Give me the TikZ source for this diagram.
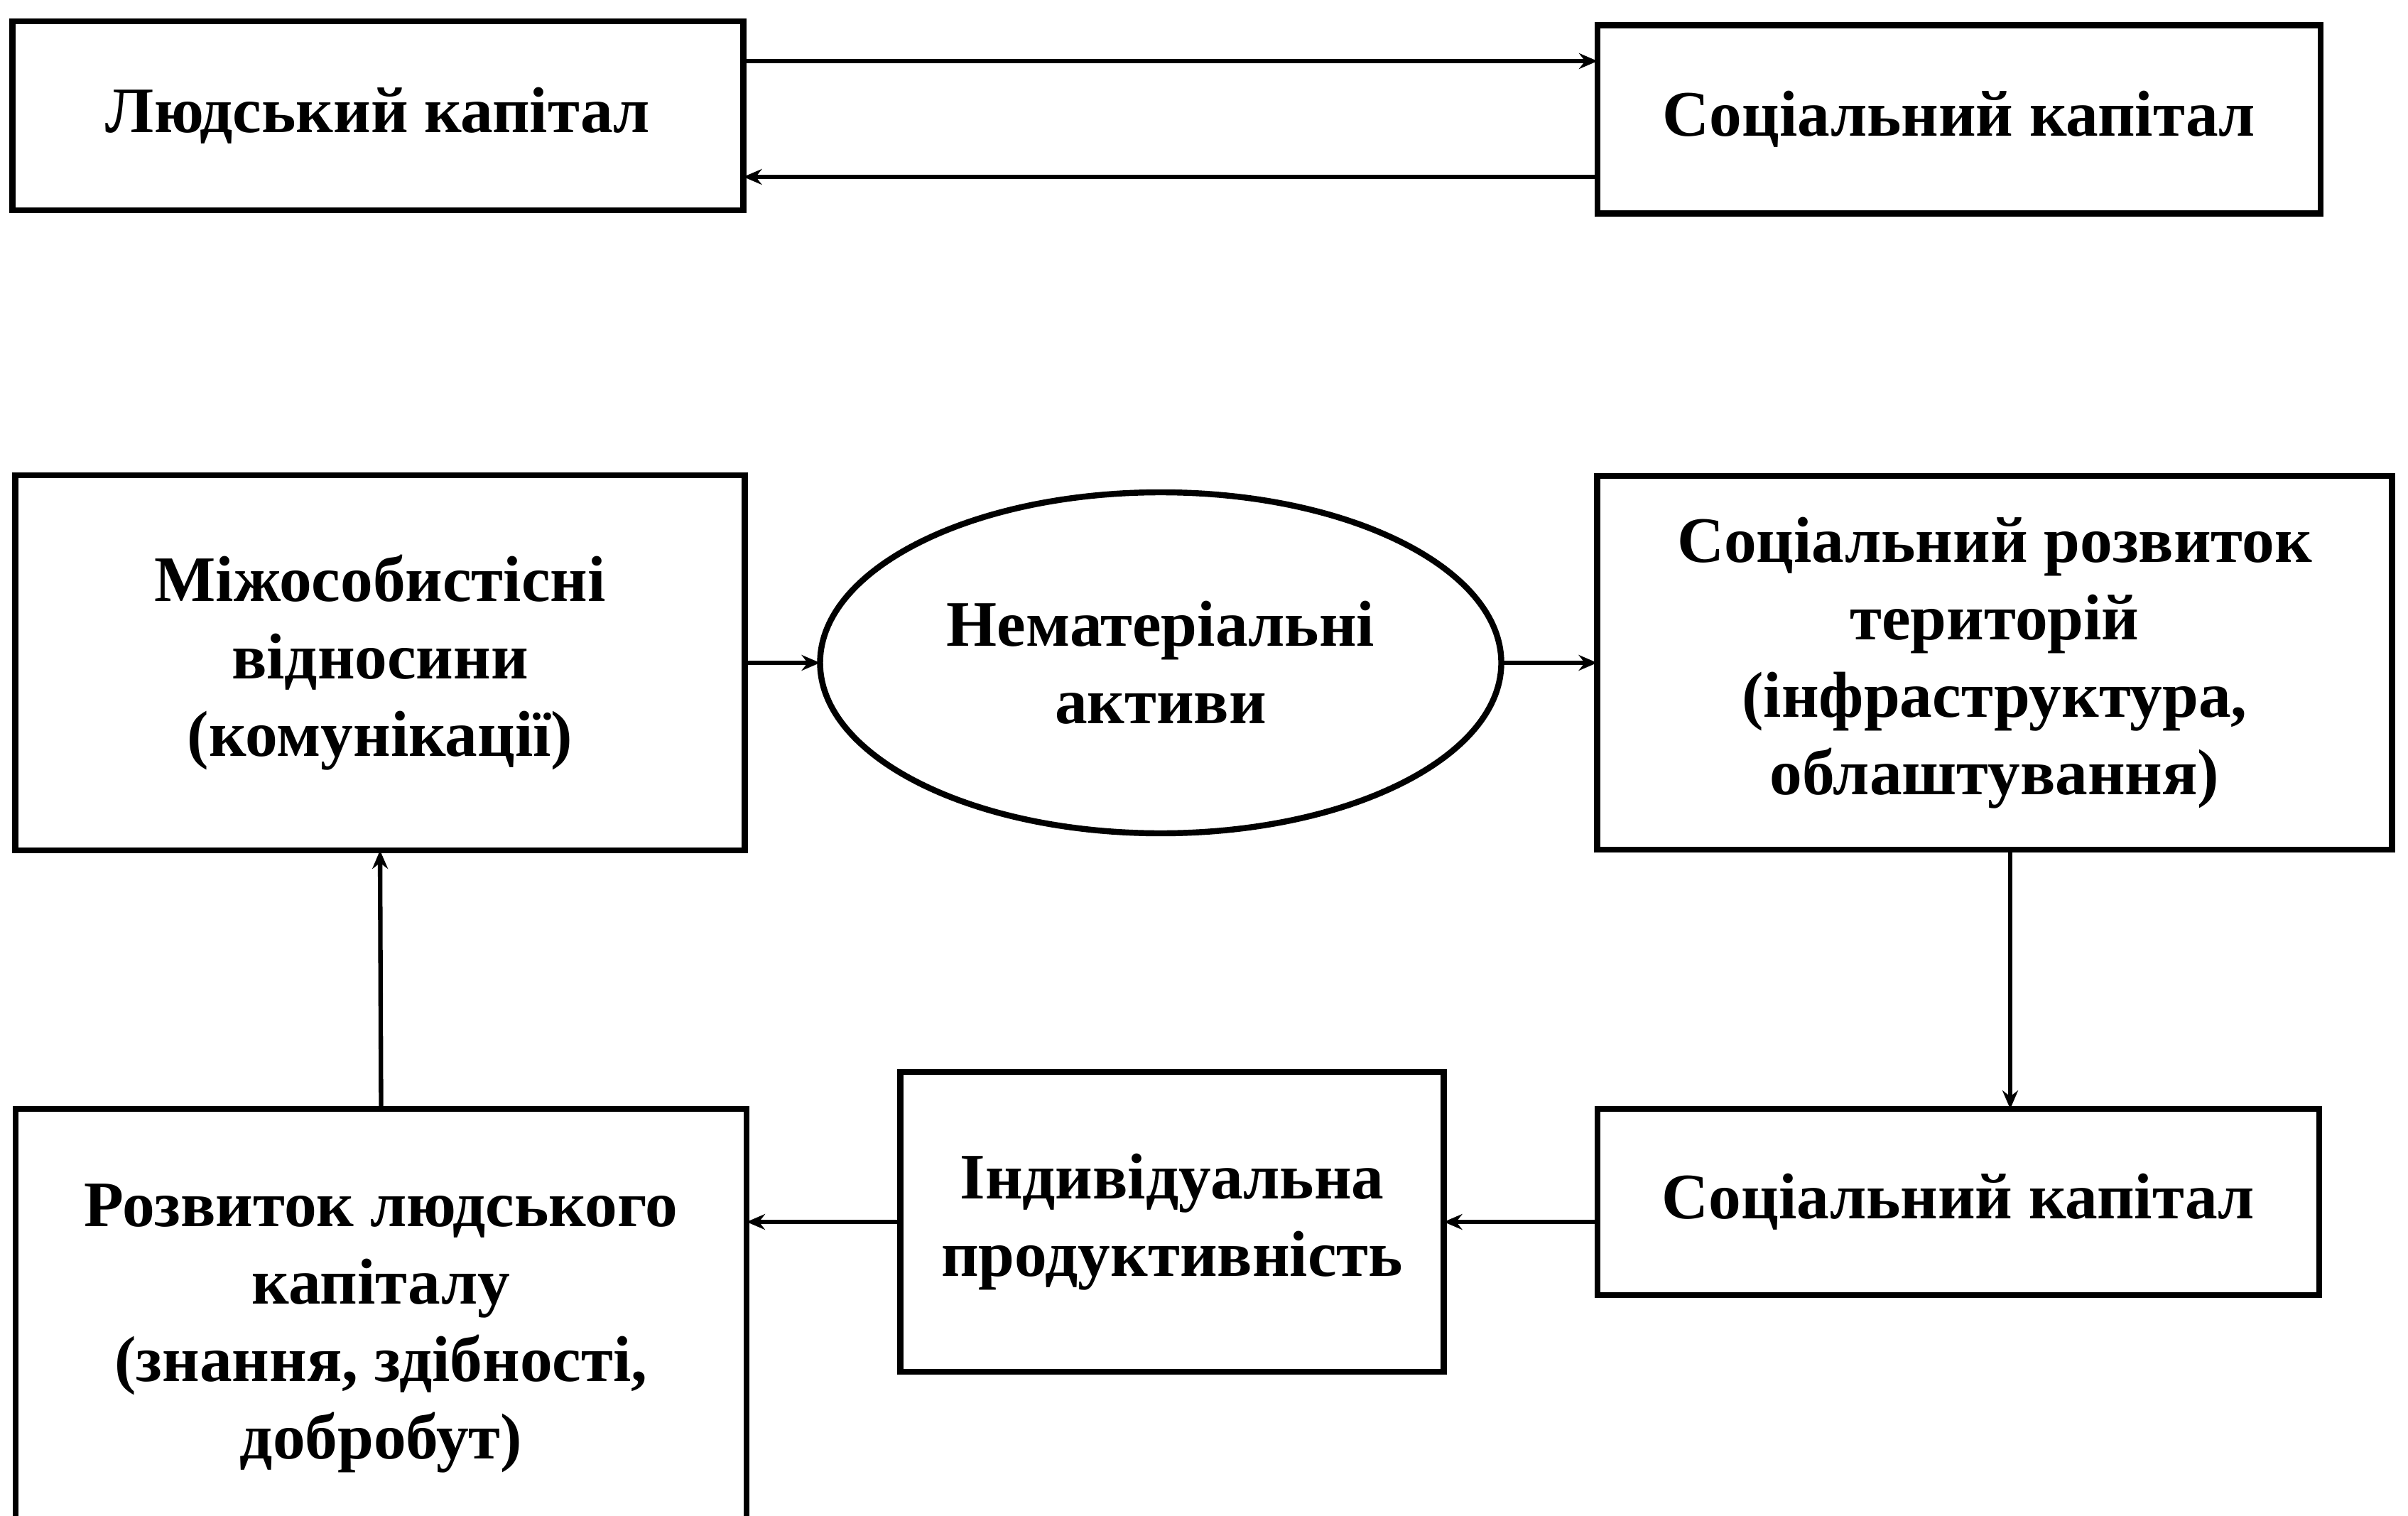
\documentclass[tikz,border=0pt]{standalone}
\usepackage{fontspec}
\setmainfont{Liberation Serif}
\usetikzlibrary{shapes.geometric,arrows.meta}

\begin{document}
\begin{tikzpicture}[
    bloc/.style={draw, line width=2.4pt, align=center,
        font=\bfseries\fontsize{26}{31}\selectfont,
        inner sep=0pt, outer sep=0pt},
    oval/.style={bloc, ellipse},
    fletxa/.style={line width=1.8pt,
        -{Stealth[length=0.26cm, width=0.22cm]}}
    ]
    \useasboundingbox (0,0) rectangle (33.90,-21.34);
    % fila de dalt
    \node[bloc, minimum width=10.29cm, minimum height=2.66cm] (lk) at (5.32,-1.63) {Людський капітал};
    \node[bloc, minimum width=10.18cm, minimum height=2.65cm] (sk) at (27.58,-1.68) {Соціальний капітал};
    % fila del mig
    \node[bloc, minimum width=10.27cm, minimum height=5.28cm] (mv) at (5.35,-9.33) {Міжособистісні\\ відносини\\ (комунікації)};
    \node[oval, minimum width=9.59cm, minimum height=4.80cm] (na) at (16.34,-9.33) {Нематеріальні\\ активи};
    \node[bloc, minimum width=11.19cm, minimum height=5.26cm] (sr) at (28.08,-9.33) {Соціальний розвиток\\ територій\\ (інфраструктура,\\ облаштування)};
    % fila de baix
    \node[bloc, minimum width=10.16cm, minimum height=2.62cm] (sk2) at (27.57,-16.92) {Соціальний капітал};
    \node[bloc, minimum width=7.65cm, minimum height=4.22cm] (ip) at (16.50,-17.20) {Індивідуальна\\ продуктивність};
    \node[bloc, minimum width=10.29cm, minimum height=6.18cm] (rl) at (5.365,-18.70) {Розвиток людського\\ капіталу\\ (знання, здібності,\\ добробут)};
    % fletxes
    \coordinate (a1) at ([yshift=0.77cm]lk.east);
    \coordinate (a2) at ([yshift=-0.81cm]sk.west);
    \coordinate (v1) at ([xshift=0.22cm]sr.south);
    \draw[fletxa] (a1) -- (a1 -| sk.west);
    \draw[fletxa] (a2) -- (a2 -| lk.east);
    \draw[fletxa] (mv) -- (na);
    \draw[fletxa] (na) -- (sr);
    \draw[fletxa] (v1) -- (v1 |- sk2.north);
    \draw[fletxa] (sk2.west |- ip.east) -- (ip.east);
    \draw[fletxa] (ip.west) -- (ip.west -| rl.east);
    \draw[fletxa] (rl.north) -- (mv.south);
\end{tikzpicture}
\end{document}
